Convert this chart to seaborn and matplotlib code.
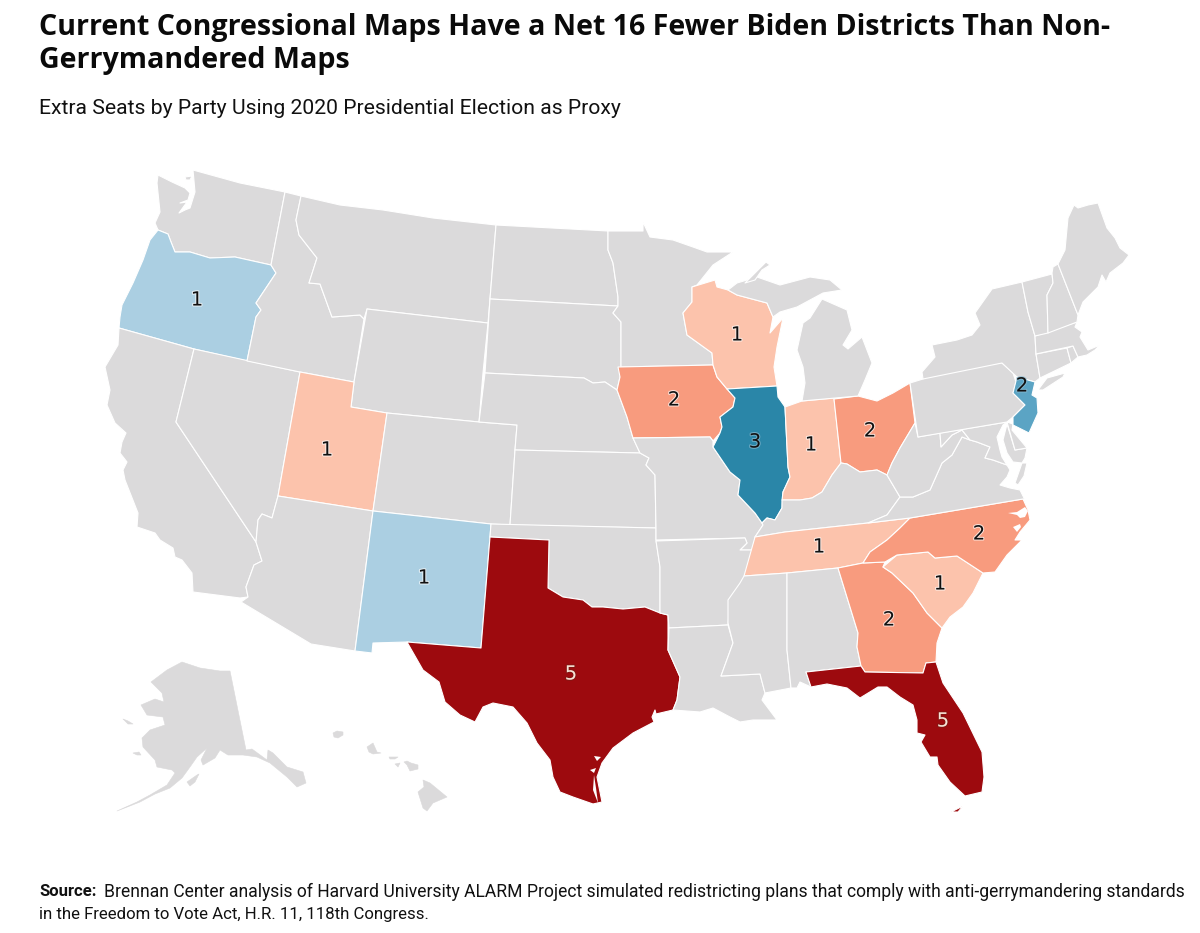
import matplotlib
matplotlib.use("Agg")
import matplotlib.pyplot as plt
import matplotlib.patheffects as pe
from matplotlib.patches import Polygon
import seaborn as sns

sns.set_theme(style="white")
plt.rcParams['font.family'] = ['Roboto', 'DejaVu Sans']

TITLE = "Current Congressional Maps Have a Net 16 Fewer Biden Districts Than Non-\nGerrymandered Maps"
SUBTITLE = "Extra Seats by Party Using 2020 Presidential Election as Proxy"
SOURCE_1 = "Brennan Center analysis of Harvard University ALARM Project simulated redistricting plans that comply with anti-gerrymandering standards"
SOURCE_2 = "in the Freedom to Vote Act, H.R. 11, 118th Congress."

# Extra seats: sign is the party (negative = Democratic, positive = Republican)
seat_states = ["OR", "NM", "IL", "NJ", "UT", "WI", "IN", "TN", "SC", "IA", "OH", "NC", "GA", "TX", "FL"]
seat_values = [-1, -1, -3, -2, 1, 1, 1, 1, 1, 2, 2, 2, 2, 5, 5]

# State outlines
WA = [(193,170),(240,183),(285,192),(271,265),(235,257),(210,258),(190,252),(175,252),(171,242),(168,234),(158,230),(155,223),(160,212),(157,183),(158,175),(172,182),(185,188),(190,193),(188,200),(180,203),(187,202),(179,213),(185,210),(190,208),(195,192)]
WA_ISLAND = [(185,177),(192,176),(190,180),(186,180)]
OR = [(158,230),(168,234),(171,242),(175,252),(190,252),(210,258),(235,257),(271,265),(276,273),(256,303),(261,310),(256,317),(247,361),(194,349),(119,328),(120,317),(122,305),(133,283),(143,260),(150,240)]
CA = [(119,328),(194,349),(176,422),(228,500),(256,542),(262,561),(254,565),(246,587),(248,597),(240,598),(193,592),(192,573),(182,560),(175,557),(173,548),(160,540),(155,533),(137,527),(138,513),(125,480),(123,470),(127,462),(120,453),(122,442),(126,433),(115,423),(107,405),(110,390),(105,367),(118,345)]
NV = [(194,349),(300,372),(278,496),(272,518),(262,514),(258,520),(256,542),(228,500),(176,422)]
ID = [(285,192),(301,196),(296,220),(299,235),(317,258),(309,283),(320,284),(332,317),(360,315),(364,319),(354,382),(300,372),(247,361),(256,317),(261,310),(256,303),(276,273),(271,265)]
MT = [(301,196),(340,205),(383,210),(433,218),(496,225),(490,299),(488,323),(367,309),(364,319),(360,315),(332,317),(320,284),(309,283),(317,258),(299,235),(296,220)]
WY = [(367,309),(488,323),(483,373),(479,422),(387,413),(351,407),(354,382)]
UT = [(300,372),(354,382),(351,407),(387,413),(373,511),(278,496)]
AZ = [(278,496),(373,511),(355,651),(311,644),(241,602),(248,597),(246,587),(254,565),(262,561),(256,542),(258,520),(262,514),(272,518)]
CO = [(387,413),(479,422),(517,425),(515,450),(510,525),(491,524),(373,511)]
NM = [(373,511),(491,524),(490,537),(481,648),(407,642),(373,643),(372,653),(355,651)]
ND = [(496,225),(608,231),(608,250),(613,263),(618,297),(618,306),(490,299)]
SD = [(490,299),(618,306),(613,313),(621,322),(621,367),(620,377),(617,390),(605,382),(593,383),(584,378),(485,373)]
NE = [(485,373),(584,378),(593,383),(605,382),(617,390),(627,417),(633,438),(640,453),(515,450),(517,425),(479,422)]
KS = [(515,450),(640,453),(649,458),(646,465),(655,475),(656,528),(510,525)]
OK = [(491,524),(656,528),(656,540),(660,567),(660,613),(645,607),(623,609),(603,607),(592,607),(583,600),(563,597),(548,588),(549,540),(490,537)]
TX = [(490,537),(549,540),(548,588),(563,597),(583,600),(592,607),(603,607),(623,609),(645,607),(660,613),(668,615),(668,650),(680,677),(677,700),(673,710),(656,714),(655,710),(652,717),(654,722),(633,733),(613,748),(602,763),(597,777),(602,802),(593,804),(573,797),(560,792),(553,777),(550,760),(537,743),(527,723),(513,707),(493,703),(483,707),(475,722),(460,715),(445,702),(439,682),(423,670),(407,642),(481,648)]
MN = [(608,231),(643,231),(643,222),(650,237),(673,240),(693,247),(707,252),(733,252),(713,265),(697,285),(692,287),(692,302),(683,313),(687,335),(712,353),(713,365),(621,367),(621,322),(613,313),(618,306),(618,297),(613,263),(608,250)]
IA = [(618,367),(713,365),(717,377),(727,389),(735,398),(733,407),(720,417),(722,427),(720,433),(713,441),(710,437),(633,438),(627,417),(617,390),(620,377)]
MO = [(633,438),(710,437),(713,441),(713,447),(730,472),(740,480),(738,495),(755,513),(762,523),(763,525),(755,537),(753,550),(740,550),(747,543),(745,538),(656,540),(656,528),(655,475),(646,465),(649,458),(640,453)]
AR = [(656,541),(745,538),(747,543),(740,550),(753,550),(747,575),(740,587),(730,600),(728,625),(669,628),(668,615),(660,613),(660,567)]
LA = [(669,628),(728,625),(733,643),(721,676),(760,674),(765,693),(762,700),(777,720),(753,720),(740,722),(730,717),(713,708),(700,712),(673,710),(677,700),(680,677),(668,650)]
WI = [(692,287),(715,280),(717,287),(728,290),(737,295),(767,303),(773,317),(770,333),(783,318),(777,347),(774,367),(777,386),(727,389),(717,377),(713,365),(712,353),(687,335),(683,313),(692,302)]
IL = [(727,389),(777,386),(778,397),(785,407),(788,467),(790,477),(783,492),(782,508),(775,520),(767,518),(762,523),(755,513),(738,495),(740,480),(730,472),(713,447),(720,433),(722,427),(720,417),(733,407),(735,398)]
IN = [(785,407),(802,401),(834,398),(841,463),(832,475),(822,492),(812,498),(800,500),(782,500),(783,492),(790,477),(788,467)]
OH = [(834,399),(858,396),(877,401),(893,393),(910,383),(915,423),(900,448),(892,463),(887,475),(877,470),(860,472),(847,464),(841,463)]
KY = [(755,537),(785,532),(868,523),(887,515),(900,497),(887,475),(877,470),(860,472),(847,464),(841,463),(832,475),(822,492),(812,498),(800,500),(782,500),(782,508),(775,520),(767,518),(762,523),(763,525)]
TN = [(744,576),(755,537),(785,532),(868,523),(910,518),(900,528),(887,540),(870,552),(863,563),(838,568),(787,573)]
MS = [(744,576),(787,573),(787,650),(791,688),(765,693),(760,674),(721,676),(733,643),(728,623),(728,600),(740,583)]
AL = [(787,573),(838,568),(858,633),(857,647),(861,666),(806,672),(811,687),(800,682),(797,688),(791,688),(787,650)]
GA = [(838,568),(863,563),(885,562),(883,567),(892,573),(913,593),(927,613),(942,628),(937,643),(936,662),(926,663),(923,673),(865,672),(861,666),(857,647),(858,633)]
FL = [(806,672),(861,666),(865,672),(923,673),(926,663),(936,662),(943,683),(963,713),(982,752),(984,777),(982,792),(965,796),(950,782),(938,765),(937,757),(930,757),(921,742),(925,735),(917,733),(917,720),(913,705),(900,697),(887,687),(878,687),(860,698),(847,688),(827,684),(811,687)]
FL_KEYS = [(951,812),(963,806),(958,812)]
SC = [(883,567),(897,555),(928,552),(935,558),(957,556),(983,573),(973,593),(963,607),(950,617),(942,628),(927,613),(913,593),(892,573)]
NC = [(910,518),(1023,499),(1028,510),(1030,520),(1020,532),(1015,540),(1022,540),(1007,555),(995,572),(983,573),(957,556),(935,558),(928,552),(897,555),(885,562),(863,563),(870,552),(887,540),(900,528)]
VA = [(868,523),(887,515),(900,497),(913,497),(930,490),(942,463),(952,455),(962,437),(970,440),(977,442),(990,447),(985,458),(993,460),(1007,465),(1010,470),(1007,477),(1000,485),(1010,488),(1020,490),(1025,500),(1023,499),(910,518)]
VA_SHORE = [(1015,483),(1022,463),(1027,463),(1024,476),(1018,485)]
WV = [(918,437),(940,433),(941,447),(952,435),(962,430),(970,440),(962,437),(952,455),(942,463),(930,490),(913,497),(900,497),(887,475),(892,463),(900,448),(915,423)]
MD_WEST = [(940,433),(1007,422),(1003,425),(997,437),(1000,450),(1002,457),(1007,465),(993,460),(985,458),(990,447),(977,442),(970,440),(962,430),(952,435),(941,447)]
MD_EAST = [(1007,424),(1015,450),(1027,448),(1025,458),(1022,463),(1013,462),(1007,453),(1003,440)]
DE = [(1007,422),(1013,424),(1012,430),(1027,448),(1015,450)]
PA = [(923,379),(922,372),(1002,363),(1013,373),(1016,382),(1013,393),(1025,405),(1013,417),(1007,422),(918,437),(915,417),(910,383)]
NY = [(923,379),(922,372),(935,357),(932,345),(957,340),(972,335),(980,325),(975,313),(992,289),(1022,282),(1028,312),(1035,336),(1036,354),(1040,378),(1035,382),(1017,377),(1002,363)]
LONG_ISLAND = [(1038,390),(1047,378),(1065,373),(1063,377),(1043,390)]
NJ = [(1017,377),(1035,382),(1032,395),(1037,398),(1038,413),(1029,433),(1013,425),(1013,417),(1025,405),(1013,393)]
CT = [(1036,354),(1067,348),(1071,363),(1040,378)]
RI = [(1067,348),(1073,346),(1078,357),(1071,363)]
MA = [(1035,336),(1077,322),(1075,327),(1082,332),(1080,337),(1088,350),(1100,345),(1095,350),(1087,355),(1078,357),(1073,346),(1036,354)]
VT = [(1022,282),(1052,274),(1053,283),(1047,295),(1048,333),(1035,336),(1028,312)]
NH = [(1052,273),(1053,267),(1058,264),(1078,315),(1077,322),(1048,333),(1047,295),(1053,283)]
ME = [(1058,264),(1065,250),(1068,218),(1074,205),(1078,208),(1088,205),(1098,203),(1107,228),(1115,238),(1120,248),(1129,255),(1123,263),(1110,273),(1106,282),(1102,275),(1098,287),(1083,302),(1078,315)]
MI_LOWER = [(858,396),(802,401),(805,383),(803,367),(797,350),(803,323),(810,318),(822,299),(847,310),(852,330),(843,345),(848,349),(862,337),(872,363),(865,380)]
MI_UPPER = [(728,290),(737,283),(757,277),(780,285),(810,277),(830,280),(842,290),(823,293),(797,307),(780,312),(773,317),(767,303),(737,295)]
MI_KEWEENAW = [(745,283),(760,268),(766,262),(770,265),(762,270),(755,280)]
AK = [(230,671),(246,750),(252,749),(267,760),(268,750),(273,753),(287,767),(303,772),(306,783),(297,787),(287,777),(270,763),(257,757),(243,755),(228,755),(220,750),(215,758),(203,765),(201,760),(207,748),(197,757),(190,767),(182,778),(170,788),(155,794),(140,802),(117,811),(137,802),(150,795),(167,785),(175,773),(172,770),(157,767),(155,760),(143,747),(142,738),(150,730),(165,725),(163,717),(147,715),(141,705),(155,699),(164,702),(162,693),(151,682),(167,670),(182,662),(200,668),(220,671)]
AK_KODIAK = [(187,782),(197,775),(199,774),(195,782),(190,786)]
AK_NUNIVAK = [(133,753),(139,752),(141,755),(137,755)]
AK_STLAWRENCE = [(123,719),(128,721),(133,724),(128,724)]
HI_BIG = [(423,780),(430,783),(447,797),(433,803),(427,811),(423,808),(418,792),(424,787)]
HI_MAUI = [(404,762),(407,761),(411,763),(418,765),(418,769),(410,771),(407,765)]
HI_MOLOKAI = [(389,757),(398,757),(395,759),(390,759)]
HI_LANAI = [(395,764),(400,763),(398,767)]
HI_OAHU = [(367,747),(373,743),(377,752),(381,753),(373,754),(369,752)]
HI_KAUAI = [(333,733),(337,731),(343,732),(343,735),(338,738),(334,737)]
PAMLICO = [(1008,513),(1017,512),(1025,507),(1028,511),(1025,517),(1020,518),(1017,515)]
ALBEMARLE = [(1013,527),(1020,524),(1021,527),(1017,532)]
PADRE = [(594,775),(593,790),(598,803),(596,788)]
ARANSAS = [(594,756),(601,757),(597,761)]
CORPUS = [(590,770),(596,768),(594,773)]

SHAPES = {
    "WA": [WA, WA_ISLAND], "OR": [OR], "CA": [CA], "NV": [NV], "ID": [ID], "MT": [MT], "WY": [WY], "UT": [UT],
    "AZ": [AZ], "CO": [CO], "NM": [NM], "ND": [ND], "SD": [SD], "NE": [NE], "KS": [KS], "OK": [OK],
    "TX": [TX], "MN": [MN], "IA": [IA], "MO": [MO], "AR": [AR], "LA": [LA], "WI": [WI], "IL": [IL],
    "IN": [IN], "OH": [OH], "KY": [KY], "TN": [TN], "MS": [MS], "AL": [AL], "GA": [GA],
    "FL": [FL, FL_KEYS], "SC": [SC], "NC": [NC], "VA": [VA, VA_SHORE], "WV": [WV], "MD": [MD_WEST, MD_EAST], "DE": [DE],
    "PA": [PA], "NY": [NY, LONG_ISLAND], "NJ": [NJ], "CT": [CT], "RI": [RI], "MA": [MA], "VT": [VT],
    "NH": [NH], "ME": [ME], "MI": [MI_LOWER, MI_UPPER, MI_KEWEENAW],
    "AK": [AK, AK_KODIAK, AK_NUNIVAK, AK_STLAWRENCE],
    "HI": [HI_BIG, HI_MAUI, HI_MOLOKAI, HI_LANAI, HI_OAHU, HI_KAUAI],
}
NO_EDGE = {"AK", "HI"}

LABEL_AT = {"OR": (197,300), "NM": (424,578), "IL": (755,442), "NJ": (1022,386), "UT": (327,450),
            "WI": (737,335), "IN": (811,445), "TN": (819,547), "SC": (940,584), "IA": (674,400),
            "OH": (870,431), "NC": (979,534), "GA": (889,620), "TX": (571,674), "FL": (943,721)}

GRAY = "#dbdadb"
pal = sns.color_palette(["#abcfe2", "#5ba4c4", "#2a86a8", "#fcc3ac", "#f89b7e", "#9d0a0e"])
FILL = {-1: pal[0], -2: pal[1], -3: pal[2], 1: pal[3], 2: pal[4], 5: pal[5]}
seats = dict(zip(seat_states, seat_values))

fig = plt.figure(figsize=(12, 9.33), dpi=100, facecolor="white")
ax = fig.add_axes([0, 0, 1, 1])
ax.set_xlim(0, 1200)
ax.set_ylim(933, 0)
ax.axis("off")

for name, parts in SHAPES.items():
    colour = FILL.get(seats.get(name), GRAY)
    for part in parts:
        if name in NO_EDGE:
            ax.add_patch(Polygon(part, closed=True, facecolor=colour, edgecolor=colour, linewidth=0.4, joinstyle="round"))
        else:
            ax.add_patch(Polygon(part, closed=True, facecolor=colour, edgecolor="white", linewidth=0.8, joinstyle="round"))
for water in (PAMLICO, ALBEMARLE, PADRE, ARANSAS, CORPUS):
    ax.add_patch(Polygon(water, closed=True, facecolor="white", edgecolor="none"))

for name, val in zip(seat_states, seat_values):
    x, y = LABEL_AT[name]
    dark_bg = val == 5
    txt = "#f6e3d6" if dark_bg else "#111111"
    halo = "#7a1a14" if dark_bg else ("#8fbdd2" if val in (-3, -2) else "#ffffff")
    ax.text(x, y, str(abs(val)), ha="center", va="center", fontsize=14, color=txt, family="DejaVu Sans",
            path_effects=[pe.withStroke(linewidth=1.5, foreground=halo, alpha=0.7)])

ax.text(39, 44, TITLE, ha="left", va="center", fontsize=20.65, fontweight="bold", color="#0a0a0a",
        family="Open Sans", linespacing=1.14)
ax.text(39, 108, SUBTITLE, ha="left", va="center", fontsize=15.2, color="#111111")
ax.text(39, 892, "Source:", ha="left", va="center", fontsize=12, fontweight="bold", color="#111111")
ax.text(104, 892, SOURCE_1, ha="left", va="center", fontsize=12.65, color="#111111")
ax.text(39, 915, SOURCE_2, ha="left", va="center", fontsize=12.1, color="#111111")

fig.savefig("out.png", dpi=100, facecolor="white")
